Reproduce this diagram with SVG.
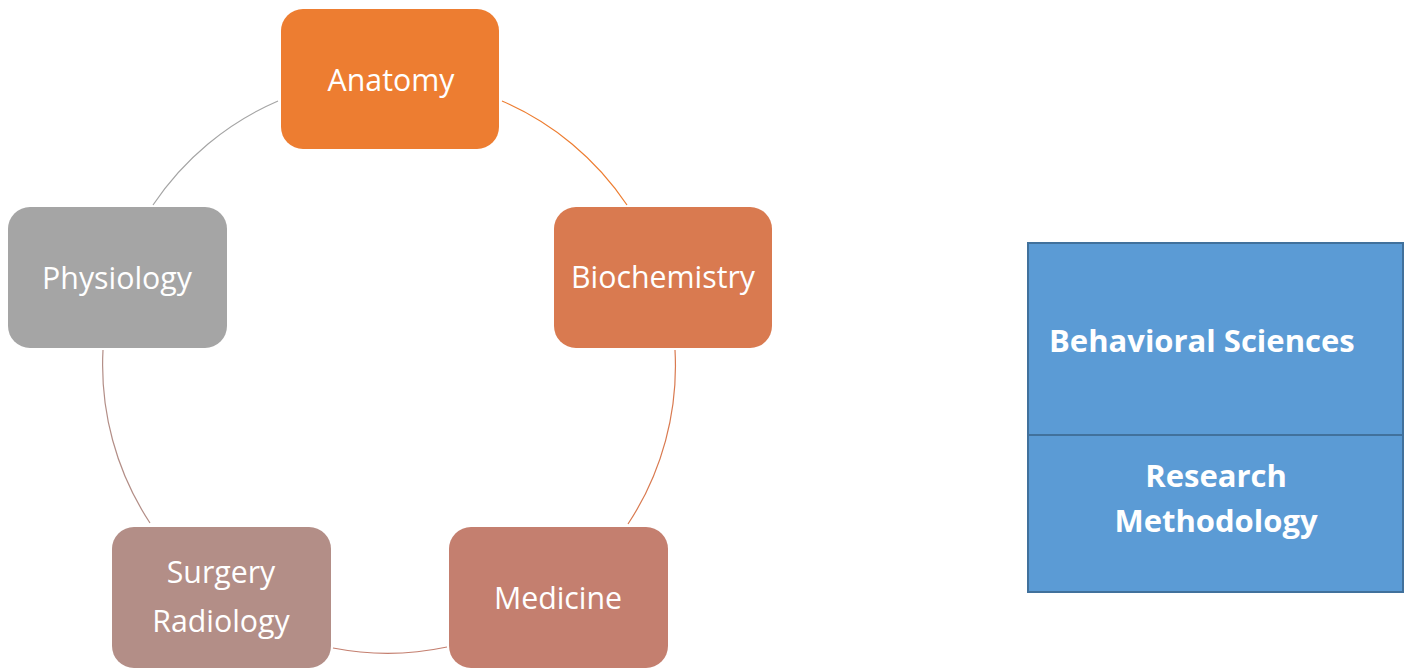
<svg xmlns="http://www.w3.org/2000/svg" width="1410" height="670" viewBox="0 0 1410 670">
<style>
.lbl{font-family:"Open Sans","Liberation Sans",sans-serif;font-size:30.3px;fill:#fff;text-anchor:middle}
.blbl{font-family:"Open Sans","Liberation Sans",sans-serif;font-size:31px;font-weight:bold;fill:#fff}
.arc{fill:none;stroke-width:1.2}
</style>
<rect width="1410" height="670" fill="#fff"/>
<g id="connectors">
<path class="arc" stroke="#ED7D31" d="M502,101 A287,287 0 0 1 627,205"/>
<path class="arc" stroke="#D97A50" d="M675,350 A287,287 0 0 1 628,524"/>
<path class="arc" stroke="#C47F6F" d="M447,647 A287,287 0 0 1 333,648"/>
<path class="arc" stroke="#B38E87" d="M150,523 A287,287 0 0 1 103,350"/>
<path class="arc" stroke="#A5A5A5" d="M153,205 A287,287 0 0 1 278,101"/>
</g>
<g id="anatomy">
<rect x="281" y="9" width="218" height="140" rx="22" fill="#ED7D31"/>
<text class="lbl" x="391" y="91">Anatomy</text>
</g>
<g id="biochemistry">
<rect x="554" y="207" width="218" height="141" rx="22" fill="#D97A50"/>
<text class="lbl" x="663" y="288">Biochemistry</text>
</g>
<g id="medicine">
<rect x="449" y="527" width="219" height="141" rx="22" fill="#C47F6F"/>
<text class="lbl" x="558" y="609">Medicine</text>
</g>
<g id="surgery-radiology">
<rect x="112" y="527" width="219" height="141" rx="22" fill="#B38E87"/>
<text class="lbl" x="221" y="583">Surgery</text>
<text class="lbl" x="221" y="632">Radiology</text>
</g>
<g id="physiology">
<rect x="8" y="207" width="219" height="141" rx="22" fill="#A5A5A5"/>
<text class="lbl" x="117" y="289">Physiology</text>
</g>
<g id="behavioral-sciences">
<rect x="1028" y="243" width="375" height="192" fill="#5B9BD5" stroke="#41719C" stroke-width="2"/>
<text class="blbl" x="1049" y="352">Behavioral Sciences</text>
</g>
<g id="research-methodology">
<rect x="1028" y="435" width="375" height="157" fill="#5B9BD5" stroke="#41719C" stroke-width="2"/>
<text class="blbl" x="1216" y="487" text-anchor="middle">Research</text>
<text class="blbl" x="1216" y="532" text-anchor="middle">Methodology</text>
</g>
</svg>
